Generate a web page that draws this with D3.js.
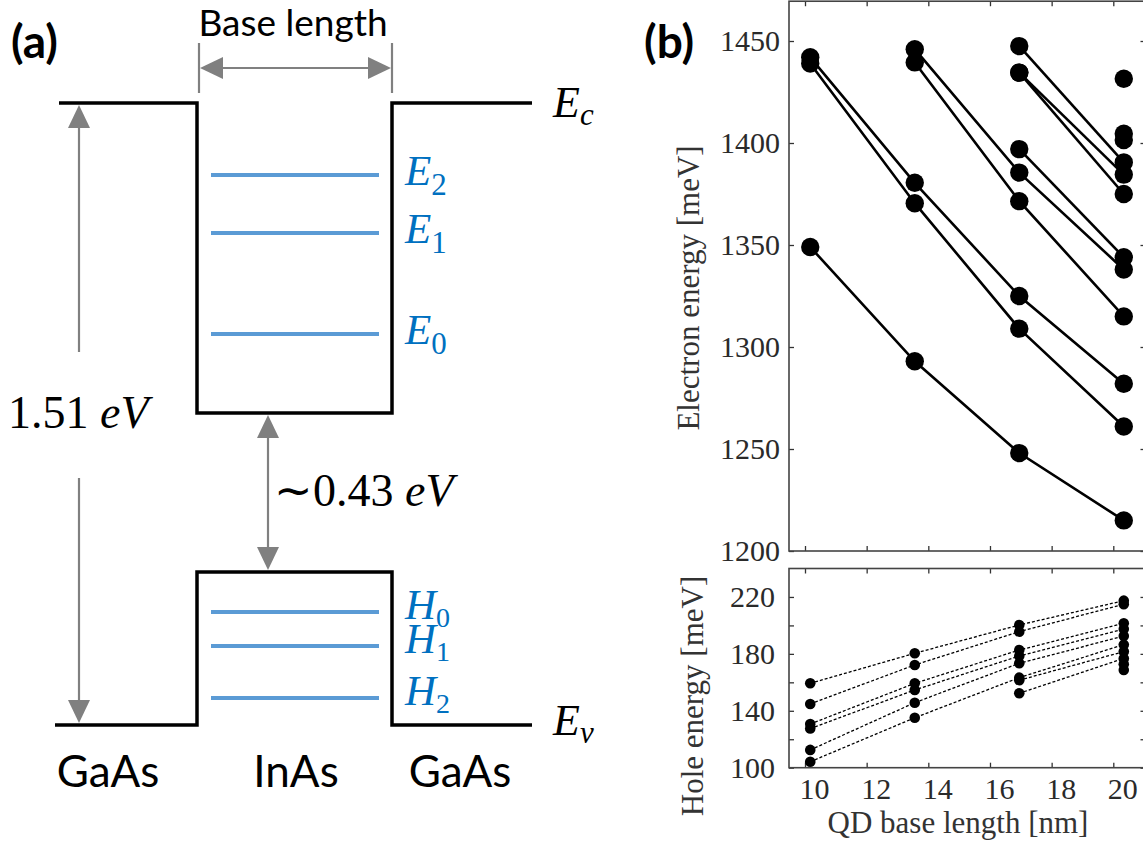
<!DOCTYPE html>
<html><head><meta charset="utf-8">
<script src="https://cdn.jsdelivr.net/npm/d3@7"></script>
<style>body{margin:0;background:#fff} svg{display:block}</style>
</head><body>
<svg id="c" width="1143" height="845"></svg>
<script>
// ---------------- data (panel b) ----------------
const baseLength = [10.17, 13.56, 16.95, 20.34]; // QD base length [nm]
// electron levels [meV]; null = level not shown at that base length
const eLevelA = [1349, 1293, 1248, 1215];
const eLevelB = [1442, 1380.5, 1325, 1282];
const eLevelC = [1439, 1370.5, 1309, 1261];
const eLevelD = [null, 1446, 1385.5, 1338];
const eLevelE = [null, 1439.5, 1371.5, 1315];
const eLevelF = [null, null, 1397, 1344];
const eLevelG = [null, null, 1447.5, 1390.5];
const eLevelH = [null, null, 1434.5, 1384.5];
const eLevelI = [null, null, 1434.5, 1375];
const eLevelJ = [null, null, null, 1431.5];
const eLevelK = [null, null, null, 1404.5];
const eLevelL = [null, null, null, 1401.5];
const electronLevels = [eLevelA, eLevelB, eLevelC, eLevelD, eLevelE, eLevelF,
                        eLevelG, eLevelH, eLevelI, eLevelJ, eLevelK, eLevelL];
// hole levels [meV]
const hLevelA = [159.3, 180.4, 200.3, 217.4];
const hLevelB = [144.8, 172.2, 195.6, 214.9];
const hLevelC = [130.7, 159.3, 182.7, 201.5];
const hLevelD = [127.5, 154.6, 178.5, 197.5];
const hLevelE = [112.5, 145.7, 173.4, 192.5];
const hLevelF = [104.2, 135.1, 163.3, 186.5];
const hLevelG = [null, null, 161.5, 181.6];
const hLevelH = [null, null, 152.3, 176.8];
const hLevelI = [null, null, null, 172.7];
const hLevelJ = [null, null, null, 168.7];
const holeLevels = [hLevelA, hLevelB, hLevelC, hLevelD, hLevelE,
                    hLevelF, hLevelG, hLevelH, hLevelI, hLevelJ];

const xTickValues = [10, 12, 14, 16, 18, 20];
const electronTicks = [1200, 1250, 1300, 1350, 1400, 1450];
const holeTicks = [100, 120, 140, 160, 180, 200, 220];
const holeTickLabels = [100, 140, 180, 220];

// ---------------- labels (panel a) ----------------
const electronStates = ['2', '1', '0'];
const holeStates = ['0', '1', '2'];
const materials = ['GaAs', 'InAs', 'GaAs'];

const svg = d3.select('#c');
const SERIF = "'Liberation Serif', 'Times New Roman', serif";
const SANS = "Lato, 'Open Sans', sans-serif";

// ================= panel (b) =================
const plotL = 789, plotR = 1145.5;
const x = d3.scaleLinear().domain([10, 20]).range([805, 1113.3]);
const yE = d3.scaleLinear().domain([1200, 1450]).range([551, 41]);
const eTop = yE(1469.5);
const yH = d3.scaleLinear().domain([100, 240]).range([767.7, 568.5]);

const tickCol = '#333';
function styleAxis(g, showText) {
  g.attr('font-family', null).attr('font-size', null);
  g.select('.domain').remove();
  g.selectAll('.tick line').attr('stroke', tickCol).attr('stroke-width', 1.3);
  g.selectAll('.tick text').style('font-family', SERIF).style('font-size', '30px').attr('fill', '#2a2a2a');
  if (!showText) g.selectAll('.tick text').remove();
}
function frame(top, bottom) {
  svg.append('rect').attr('x', plotL).attr('y', top).attr('width', plotR - plotL)
    .attr('height', bottom - top).attr('fill', 'none').attr('stroke', '#444').attr('stroke-width', 1.6);
}
const fmt = d3.format('d');

// --- top: electrons ---
const gE = svg.append('g');
gE.append('g').attr('transform', `translate(${plotL},0)`)
  .call(d3.axisLeft(yE).tickValues(electronTicks).tickFormat(fmt).tickSizeInner(-5).tickSizeOuter(0).tickPadding(9))
  .call(g => styleAxis(g, true));
gE.append('g').attr('transform', `translate(${plotR},0)`)
  .call(d3.axisRight(yE).tickValues(electronTicks).tickSizeInner(-5).tickSizeOuter(0))
  .call(g => styleAxis(g, false));
gE.append('g').attr('transform', `translate(0,${eTop})`)
  .call(d3.axisTop(x).tickValues(xTickValues).tickSizeInner(-5).tickSizeOuter(0))
  .call(g => styleAxis(g, false));
gE.append('g').attr('transform', `translate(0,${yE(1200)})`)
  .call(d3.axisBottom(x).tickValues(xTickValues).tickSizeInner(-5).tickSizeOuter(0))
  .call(g => styleAxis(g, false));
frame(eTop, yE(1200));

const lineE = d3.line().defined(d => d.v != null).x(d => x(d.b)).y(d => yE(d.v));
electronLevels.forEach(lv => {
  const pts = lv.map((v, i) => ({b: baseLength[i], v}));
  gE.append('path').attr('d', lineE(pts)).attr('fill', 'none')
    .attr('stroke', '#000').attr('stroke-width', 2.6);
});
electronLevels.forEach(lv => {
  lv.forEach((v, i) => {
    if (v == null) return;
    gE.append('circle').attr('cx', x(baseLength[i])).attr('cy', yE(v)).attr('r', 9.2).attr('fill', '#000');
  });
});
svg.append('text').attr('transform', `translate(688,288) rotate(-90)`)
  .attr('text-anchor', 'middle').attr('dominant-baseline', 'central')
  .style('font-family', SERIF).style('font-size', '31px').attr('fill', '#333')
  .text('Electron energy [meV]');

// --- bottom: holes ---
const gH = svg.append('g');
gH.append('g').attr('transform', `translate(${plotL},0)`)
  .call(d3.axisLeft(yH).tickValues(holeTicks).tickSizeInner(-5).tickSizeOuter(0).tickPadding(14)
        .tickFormat(d => holeTickLabels.includes(d) ? fmt(d) : ''))
  .call(g => styleAxis(g, true));
gH.append('g').attr('transform', `translate(${plotR},0)`)
  .call(d3.axisRight(yH).tickValues(holeTicks).tickSizeInner(-5).tickSizeOuter(0))
  .call(g => styleAxis(g, false));
gH.append('g').attr('transform', `translate(0,${yH(240)})`)
  .call(d3.axisTop(x).tickValues(xTickValues).tickSizeInner(-5).tickSizeOuter(0))
  .call(g => styleAxis(g, false));
gH.append('g').attr('transform', `translate(0,${yH(100)})`)
  .call(d3.axisBottom(x).tickValues(xTickValues).tickFormat(fmt).tickSizeInner(-5).tickSizeOuter(0).tickPadding(10))
  .call(g => styleAxis(g, true))
  .call(g => g.selectAll('.tick text').attr('dx', 9));
frame(yH(240), yH(100));

const lineH = d3.line().defined(d => d.v != null).x(d => x(d.b)).y(d => yH(d.v));
holeLevels.forEach(lv => {
  const pts = lv.map((v, i) => ({b: baseLength[i], v}));
  gH.append('path').attr('d', lineH(pts)).attr('fill', 'none')
    .attr('stroke', '#000').attr('stroke-width', 1.3).attr('stroke-dasharray', '3,2');
});
holeLevels.forEach(lv => {
  lv.forEach((v, i) => {
    if (v == null) return;
    gH.append('circle').attr('cx', x(baseLength[i])).attr('cy', yH(v)).attr('r', 5.3).attr('fill', '#000');
  });
});
svg.append('text').attr('transform', `translate(692,696) rotate(-90)`)
  .attr('text-anchor', 'middle').attr('dominant-baseline', 'central')
  .style('font-family', SERIF).style('font-size', '31px').attr('fill', '#333')
  .text('Hole energy [meV]');
svg.append('text').attr('x', 958).attr('y', 833).attr('text-anchor', 'middle')
  .style('font-family', SERIF).style('font-size', '31px').attr('fill', '#333')
  .text('QD base length [nm]');

svg.append('text').attr('x', 644).attr('y', 58).style('font-family', SANS)
  .attr('font-weight', 'bold').style('font-size', '46px').attr('fill', '#000').text('(b)');

// ================= panel (a) =================
const gA = svg.append('g');
const grey = '#808080', blue = '#5b9bd5', blueText = '#0070c0';
gA.append('text').attr('x', 11).attr('y', 58).style('font-family', SANS)
  .attr('font-weight', 'bold').style('font-size', '46px').attr('fill', '#000').text('(a)');

const wellL = 197, wellR = 392;
const yEc = 103, yWellBottom = 413, yHTop = 572, yEv = 725;
// conduction band
gA.append('path').attr('d', `M59,${yEc}H${wellL}V${yWellBottom}H${wellR}V${yEc}H532`)
  .attr('fill', 'none').attr('stroke', '#000').attr('stroke-width', 3.5);
// valence band
gA.append('path').attr('d', `M55,${yEv}H${wellL}V${yHTop}H${wellR}V${yEv}H532`)
  .attr('fill', 'none').attr('stroke', '#000').attr('stroke-width', 3.5);

const eLineY = [175, 233, 334], hLineY = [612, 646, 698];
function levelLabel(letter, sub, yb, subSize, subDy) {
  const t = gA.append('text').attr('x', 405).attr('y', yb).attr('fill', blueText).style('font-family', SERIF);
  t.append('tspan').attr('font-style', 'italic').style('font-size', '43px').text(letter);
  t.append('tspan').style('font-size', subSize + 'px').attr('dy', subDy).text(sub);
}
eLineY.forEach((yy, i) => {
  gA.append('line').attr('x1', 211).attr('x2', 379).attr('y1', yy).attr('y2', yy)
    .attr('stroke', blue).attr('stroke-width', 4);
  levelLabel('E', electronStates[i], yy + 10, 31, 10);
});
hLineY.forEach((yy, i) => {
  gA.append('line').attr('x1', 211).attr('x2', 379).attr('y1', yy).attr('y2', yy)
    .attr('stroke', blue).attr('stroke-width', 4);
  levelLabel('H', holeStates[i], yy + 7, 28, 8);
});

function bandLabel(sub, yb) {
  const t = gA.append('text').attr('x', 553).attr('y', yb).attr('fill', '#000').style('font-family', SERIF);
  t.append('tspan').attr('font-style', 'italic').style('font-size', '44px').text('E');
  t.append('tspan').attr('font-style', 'italic').style('font-size', '31px').attr('dy', 8).text(sub);
}
bandLabel('c', yEc + 14);
bandLabel('v', yEv + 10);

function head(xx, yy, dir, len = 23, hw = 11) {
  let p;
  if (dir === 'up') p = [[xx, yy], [xx - hw, yy + len], [xx + hw, yy + len]];
  if (dir === 'down') p = [[xx, yy], [xx - hw, yy - len], [xx + hw, yy - len]];
  if (dir === 'left') p = [[xx, yy], [xx + len, yy - hw], [xx + len, yy + hw]];
  if (dir === 'right') p = [[xx, yy], [xx - len, yy - hw], [xx - len, yy + hw]];
  gA.append('polygon').attr('points', p.map(q => q.join(',')).join(' ')).attr('fill', grey);
}
function seg(x1, y1, x2, y2) {
  gA.append('line').attr('x1', x1).attr('y1', y1).attr('x2', x2).attr('y2', y2)
    .attr('stroke', grey).attr('stroke-width', 2.2);
}
// base length arrow
seg(wellL + 2, 43, wellL + 2, 93); seg(wellR, 43, wellR, 93);
seg(wellL + 20, 68, wellR - 20, 68);
head(wellL + 3, 68, 'left'); head(wellR - 1, 68, 'right');
gA.append('text').attr('x', 293).attr('y', 36).attr('text-anchor', 'middle')
  .style('font-family', SANS).style('font-size', '37px').attr('fill', '#000').text('Base length');
// 1.51 eV arrow
seg(79, 120, 79, 352); head(79, yEc + 2, 'up');
seg(79, 478, 79, 705); head(79, yEv - 2, 'down');
const t151 = gA.append('text').attr('x', 8).attr('y', 428).style('font-family', SERIF).style('font-size', '46px').attr('fill', '#000');
t151.append('tspan').text('1.51 ');
t151.append('tspan').attr('font-style', 'italic').text('eV');
// 0.43 eV arrow
seg(268, 430, 268, 556); head(268, yWellBottom + 2, 'up'); head(268, yHTop - 2, 'down');
const t043 = gA.append('text').attr('x', 274).attr('y', 506).style('font-family', SERIF).style('font-size', '46px').attr('fill', '#000');
t043.append('tspan').text('\u223C0.43 ');
t043.append('tspan').attr('font-style', 'italic').text('eV');
// materials
const matX = [108, 296, 460];
materials.forEach((m, i) => {
  gA.append('text').attr('x', matX[i]).attr('y', 787).attr('text-anchor', 'middle')
    .style('font-family', SANS).style('font-size', '44px').attr('fill', '#000').text(m);
});
</script>
</body></html>
